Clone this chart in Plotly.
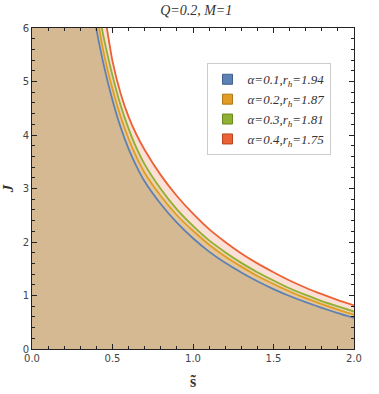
import plotly.graph_objects as go

# --- data ---
S_BLUE = [0.37, 0.40, 0.45, 0.50, 0.55, 0.60, 0.65, 0.70, 0.80, 0.90, 1.00, 1.10, 1.20, 1.30, 1.40, 1.50, 1.60, 1.70, 1.80, 1.90, 2.00]
J_BLUE = [6.50, 5.98, 5.25, 4.65, 4.15, 3.74, 3.41, 3.13, 2.71, 2.36, 2.07, 1.82, 1.61, 1.43, 1.265, 1.12, 0.99, 0.875, 0.77, 0.67, 0.58]

S_ORANGE = [0.39, 0.417, 0.45, 0.50, 0.55, 0.60, 0.65, 0.70, 0.80, 0.90, 1.00, 1.10, 1.20, 1.30, 1.40, 1.50, 1.60, 1.70, 1.80, 1.90, 2.00]
J_ORANGE = [6.55, 6.00, 5.47, 4.86, 4.35, 3.93, 3.58, 3.29, 2.86, 2.50, 2.21, 1.95, 1.73, 1.54, 1.365, 1.215, 1.075, 0.95, 0.84, 0.735, 0.64]

S_GREEN = [0.41, 0.434, 0.45, 0.50, 0.55, 0.60, 0.65, 0.70, 0.80, 0.90, 1.00, 1.10, 1.20, 1.30, 1.40, 1.50, 1.60, 1.70, 1.80, 1.90, 2.00]
J_GREEN = [6.55, 6.00, 5.76, 5.11, 4.56, 4.12, 3.75, 3.45, 2.99, 2.61, 2.30, 2.03, 1.81, 1.61, 1.435, 1.28, 1.135, 1.01, 0.895, 0.795, 0.70]

S_RED = [0.44, 0.465, 0.50, 0.55, 0.60, 0.65, 0.70, 0.80, 0.90, 1.00, 1.10, 1.20, 1.30, 1.40, 1.50, 1.60, 1.70, 1.80, 1.90, 2.00]
J_RED = [6.50, 6.00, 5.38, 4.78, 4.34, 4.00, 3.72, 3.25, 2.86, 2.53, 2.24, 2.00, 1.785, 1.60, 1.435, 1.28, 1.145, 1.025, 0.915, 0.815]

ALPHAS = ["0.1", "0.2", "0.3", "0.4"]
RHS = ["1.94", "1.87", "1.81", "1.75"]
COLORS = ["#5E81B5", "#E19C24", "#8FB032", "#EB6235"]
EDGES = ["#3F5F8F", "#B07818", "#6A8A20", "#B84420"]

X_TICKS = [0.0, 0.5, 1.0, 1.5, 2.0]
Y_TICKS = [0, 1, 2, 3, 4, 5, 6]

series = [(S_BLUE, J_BLUE), (S_ORANGE, J_ORANGE), (S_GREEN, J_GREEN), (S_RED, J_RED)]


def rgba(hexc, a):
    h = hexc.lstrip("#")
    r, g, b = int(h[0:2], 16), int(h[2:4], 16), int(h[4:6], 16)
    return f"rgba({r},{g},{b},{a})"


fig = go.Figure()

# fills (drawn first, under all lines); extended flat to the s=0 axis
for (s, j), c in zip(series, COLORS):
    fig.add_trace(go.Scatter(
        x=[0.0] + s, y=[j[0]] + j, mode="lines",
        line=dict(width=0, shape="spline", smoothing=0.5),
        fill="tozeroy", fillcolor=rgba(c, 0.2),
        showlegend=False, hoverinfo="skip"))

# curves
for (s, j), c in zip(series, COLORS):
    fig.add_trace(go.Scatter(
        x=s, y=j, mode="lines",
        line=dict(color=c, width=1.8, shape="spline", smoothing=0.5),
        showlegend=False))

# legend entries
for a, rh, c, e in zip(ALPHAS, RHS, COLORS, EDGES):
    fig.add_trace(go.Scatter(
        x=[None], y=[None], mode="markers",
        marker=dict(symbol="square", size=10, color=c, line=dict(color=e, width=1)),
        name=f"<i>α=</i><i>{a},r</i><sub><i>h</i></sub><i>={rh}</i>"))

axis_common = dict(
    showgrid=False, zeroline=False, showline=True, linecolor="#222", linewidth=1,
    mirror="ticks", ticks="inside", ticklen=5, tickcolor="#222", tickwidth=1,
    tickfont=dict(family="DejaVu Sans", size=10, color="#444"), automargin=False,
)

fig.update_layout(
    width=379, height=394,
    margin=dict(l=32, r=25, t=28, b=45),
    plot_bgcolor="white", paper_bgcolor="white",
    title=dict(text="<i>Q=0.2, M=1</i>", x=0.51, xref="paper", y=0.975, yanchor="middle",
               font=dict(family="Liberation Serif", size=14, color="#333")),
    xaxis=dict(range=[0, 2], tickvals=X_TICKS, ticktext=[f"{v:.1f}" for v in X_TICKS],
               minor=dict(dtick=0.1, ticklen=3, ticks="inside", tickcolor="#222"),
               title=dict(text="<b>s̃</b>", standoff=12,
                          font=dict(family="Liberation Serif", size=16, color="#333")),
               **axis_common),
    yaxis=dict(range=[0, 6], tickvals=Y_TICKS, ticktext=[str(v) for v in Y_TICKS],
               minor=dict(dtick=0.2, ticklen=3, ticks="inside", tickcolor="#222"),
               title=dict(text="<b><i>J</i></b>", standoff=6,
                          font=dict(family="Liberation Serif", size=15, color="#333")),
               **axis_common),
    legend=dict(x=0.542, y=0.89, xanchor="left", yanchor="top",
                bgcolor="white", bordercolor="#CCCCCC", borderwidth=1,
                font=dict(family="Liberation Serif", size=13, color="#333"),
                itemwidth=30, tracegroupgap=0),
)

fig.write_html("out.html", config={"displayModeBar": False},
               post_script="document.body.style.margin='0';")
